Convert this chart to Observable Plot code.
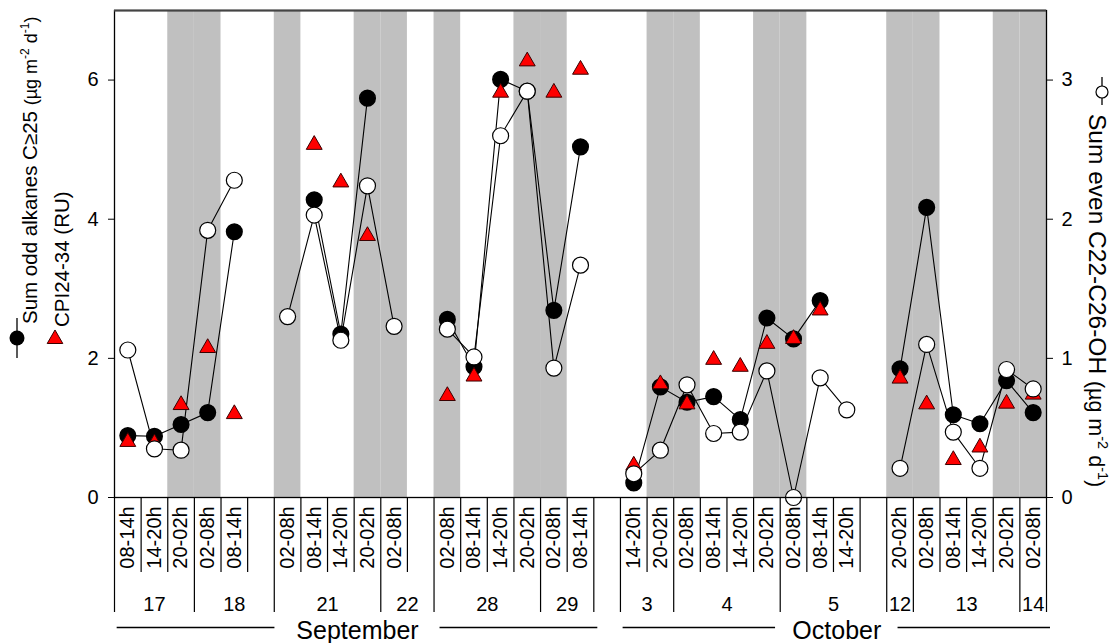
<!DOCTYPE html>
<html><head><meta charset="utf-8">
<script src="https://cdn.jsdelivr.net/npm/d3@7"></script>
<script src="https://cdn.jsdelivr.net/npm/@observablehq/plot@0.6"></script>
<style>body{margin:0;background:#fff} svg{display:block}</style>
</head><body><div id="chart"></div>
<script>
// ---- data (one entry per 6-hour sampling slot; null = no sample) ----
const times = ["08-14h","14-20h","20-02h","02-08h","08-14h",null,"02-08h","08-14h","14-20h","20-02h","02-08h",null,"02-08h","08-14h","14-20h","20-02h","02-08h","08-14h",null,"14-20h","20-02h","02-08h","08-14h","14-20h","20-02h","02-08h","08-14h","14-20h",null,"20-02h","02-08h","08-14h","14-20h","20-02h","02-08h"];
const oddAlkanes = [0.89,0.88,1.05,1.22,3.82,null,null,4.28,2.35,5.74,null,null,2.56,1.88,6.01,5.84,2.69,5.04,null,0.21,1.59,1.37,1.45,1.12,2.58,2.28,2.83,null,null,1.85,4.17,1.19,1.06,1.68,1.22];
const evenOH = [1.06,0.35,0.34,1.92,2.28,null,1.30,2.03,1.13,2.24,1.23,null,1.21,1.01,2.60,2.92,0.93,1.67,null,0.17,0.34,0.81,0.46,0.47,0.91,0.00,0.86,0.63,null,0.21,1.10,0.47,0.21,0.92,0.78];
const cpi = [0.80,0.78,1.33,2.15,1.20,null,null,5.07,4.53,3.76,null,null,1.46,1.74,5.82,6.27,5.82,6.15,null,0.46,1.63,1.34,1.98,1.88,2.21,2.28,2.69,null,null,1.71,1.34,0.54,0.72,1.35,1.48];
const nightSlots = [2,3,6,9,10,12,15,16,20,21,24,25,29,30,33,34];
const dayLabels = ["17","18","21","22","28","29","3","4","5","12","13","14"];
const dayFirstSlot = [0,3,6,10,12,16,19,21,25,29,30,34];
const dayLastSlot  = [2,5,9,11,15,17,20,24,28,29,33,34];
const monthLabels = ["September","October"];
const monthFirstSlot = [0,19];
const monthLastSlot = [17,34];
const leftTicks = [0,2,4,6];
const rightTicks = [0,1,2,3];

// ---- layout ----
const W = 1113, H = 643;
const mt = 10, mb = 146, ml = 114, mr = 67;
const yMax = 7, rightMax = 3.5, k = yMax / rightMax;
const pxPerUnit = (H - mt - mb) / yMax;
const below = px => -px / pxPerUnit;   // pixel offset under the x axis, in y units
const font = "'Liberation Sans', Arial, sans-serif";

const idx = d3.range(times.length);
const labeled = idx.filter(i => times[i] != null);
const dayBounds = Array.from(new Set(dayFirstSlot.concat(dayLastSlot.map(d => d + 1))));
const shortBounds = Array.from(new Set(labeled.flatMap(i => [i, i + 1]))).filter(b => !dayBounds.includes(b));
const days = dayLabels.map((l, j) => ({label: l, c: (dayFirstSlot[j] + dayLastSlot[j] + 1) / 2}));
const gaps = [3.1, 2.3];
const months = monthLabels.map((l, j) => {
  const a = monthFirstSlot[j] + 0.1, b = monthLastSlot[j] + 1.15, c = (a + b) / 2;
  return {label: l, a, b, c, g: gaps[j]};
});
const monthSegs = months.flatMap(m => [{x1: m.a, x2: m.c - m.g}, {x1: m.c + m.g, x2: m.b}]);

const plot = Plot.plot({
  width: W, height: H,
  marginTop: mt, marginBottom: mb, marginLeft: ml, marginRight: mr,
  style: {fontFamily: font, fontSize: "20px", background: "white", color: "black", overflow: "visible"},
  x: {domain: [0, times.length], axis: null},
  y: {domain: [0, yMax], axis: null},
  marks: [
    Plot.rect(nightSlots, {x1: d => d, x2: d => d + 1, y1: 0, y2: yMax, fill: "#c0c0c0"}),
    // lines
    Plot.line(idx, {x: i => i + 0.5, y: i => evenOH[i] == null ? null : evenOH[i] * k, stroke: "black", strokeWidth: 1.1}),
    Plot.line(idx, {x: i => i + 0.5, y: i => oddAlkanes[i], stroke: "black", strokeWidth: 1.1}),
    // points
    Plot.dot(idx.filter(i => oddAlkanes[i] != null), {x: i => i + 0.5, y: i => oddAlkanes[i], r: 7.8, fill: "black", stroke: "black"}),
    Plot.dot(idx.filter(i => cpi[i] != null), {x: i => i + 0.5, y: i => cpi[i], symbol: "triangle", r: 5.9, fill: "#ff0000", stroke: "#3a0000", strokeWidth: 1}),
    Plot.dot(idx.filter(i => evenOH[i] != null), {x: i => i + 0.5, y: i => evenOH[i] * k, r: 8, fill: "white", stroke: "black", strokeWidth: 1.2}),
    // frame
    Plot.frame({stroke: "black", strokeWidth: 1.3}),
    Plot.ruleY([yMax], {stroke: "#444", strokeWidth: 2}),
    // axes
    Plot.axisY({anchor: "left", ticks: leftTicks, tickFormat: d => String(d), tickSize: 6, tickPadding: 10, label: null, fontSize: 20}),
    Plot.axisY({anchor: "right", ticks: rightTicks.map(t => t * k), tickFormat: d => String(d / k), tickSize: 6, tickPadding: 9, label: null, fontSize: 20}),
    // x labelling rows
    Plot.ruleX(shortBounds, {x: d => d, y1: 0, y2: below(75), stroke: "black", strokeWidth: 1.2}),
    Plot.ruleX(dayBounds, {x: d => d, y1: 0, y2: below(115), stroke: "black", strokeWidth: 1.2}),
    Plot.text(labeled, {x: i => i + 0.5, y: below(40), text: i => times[i], rotate: -90, fontSize: 20, textAnchor: "middle", lineAnchor: "middle", fill: "black"}),
    Plot.text(days, {x: "c", y: below(107), text: "label", fontSize: 20, textAnchor: "middle", lineAnchor: "middle", fill: "black"}),
    Plot.ruleY(monthSegs, {x1: "x1", x2: "x2", y: below(130), stroke: "black", strokeWidth: 1.3}),
    Plot.text(months, {x: "c", y: below(133), text: "label", fontSize: 25, textAnchor: "middle", lineAnchor: "middle", fill: "black"})
  ]
});
document.getElementById("chart").append(plot);

// ---- axis titles with legend symbols ----
const svg = d3.select(plot);
function title(x, y, rot, parts, lift) {
  const t = svg.append("text").attr("transform", `translate(${x},${y}) rotate(${rot})`)
    .attr("font-family", font).attr("fill", "black").attr("text-anchor", "start");
  let shift = 0;
  for (const [s, size, sup] of parts) {
    const dy = sup ? -lift - shift : -shift;
    t.append("tspan").attr("font-size", size).attr("dy", dy).text(s);
    shift = sup ? -lift : 0;
  }
  return t;
}
title(37, 324, -90, [["Sum odd alkanes C≥25 ", 20.5], ["(µg m", 18], ["-2", 12, true], [" d", 18], ["-1", 12, true], [")", 18]], 8);
title(69, 327, -90, [["CPI24-34 (RU)", 20.5]], 8);
title(1089, 114, 90, [["Sum even C22-C26-OH ", 24.5], ["(µg m", 21.5], ["-2", 14.5, true], [" d", 21.5], ["-1", 14.5, true], [")", 21.5]], 9);
// legend symbols
svg.append("line").attr("x1", 17).attr("x2", 17).attr("y1", 318).attr("y2", 358).attr("stroke", "black").attr("stroke-width", 1.3);
svg.append("circle").attr("cx", 17).attr("cy", 338).attr("r", 7.5).attr("fill", "black");
svg.append("path").attr("d", d3.symbol(d3.symbolTriangle, Math.PI * 5.8 * 5.8)()).attr("transform", "translate(55,339)")
  .attr("fill", "#ff0000").attr("stroke", "#3a0000");
svg.append("line").attr("x1", 1102).attr("x2", 1102).attr("y1", 77).attr("y2", 105).attr("stroke", "black").attr("stroke-width", 1.3);
svg.append("circle").attr("cx", 1102).attr("cy", 92).attr("r", 6).attr("fill", "white").attr("stroke", "black").attr("stroke-width", 1.2);
</script>
</body></html>
